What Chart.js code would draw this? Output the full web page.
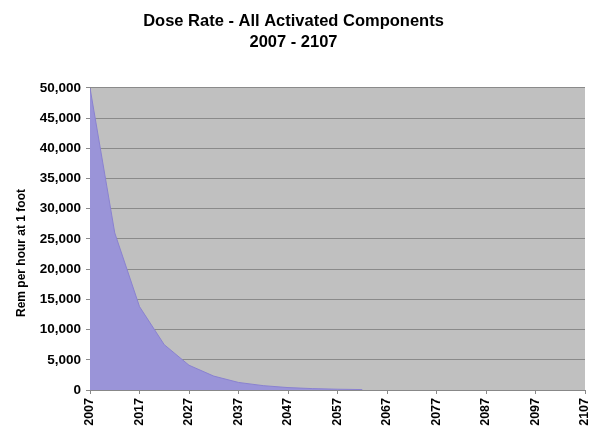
<!DOCTYPE html>
<html>
<head>
<meta charset="utf-8">
<script src="https://cdn.jsdelivr.net/npm/chart.js@4/dist/chart.umd.min.js"></script>
<style>
  html, body { margin: 0; padding: 0; background: #fff; }
  #wrap { width: 604px; height: 430px; position: relative; }
</style>
</head>
<body>
<div id="wrap"><canvas id="c"></canvas></div>
<script>
// Dose rate (rem per hour at 1 foot), sampled every five years
const years = [2007, 2012, 2017, 2022, 2027, 2032, 2037, 2042, 2047, 2052, 2057, 2062];
const doseRate = [50000, 26000, 13800, 7500, 4100, 2300, 1250, 720, 400, 230, 130, 70];
const yearTicks = [2007, 2017, 2027, 2037, 2047, 2057, 2067, 2077, 2087, 2097, 2107];
const titleLines = ['Dose Rate - All Activated Components', '2007 - 2107'];
const yAxisTitle = 'Rem per hour at 1 foot';

const FONT = "'Liberation Sans', Arial, sans-serif";

// Grey plot-area background
const plotBackground = {
  id: 'plotBackground',
  beforeDraw(chart) {
    const { ctx, chartArea: a } = chart;
    ctx.save();
    ctx.fillStyle = '#c0c0c0';
    ctx.fillRect(a.left, a.top, a.right - a.left, a.bottom - a.top);
    ctx.restore();
  }
};

// Rotated y-axis caption
const yCaption = {
  id: 'yCaption',
  afterDraw(chart) {
    const { ctx } = chart;
    ctx.save();
    ctx.translate(22, 253);
    ctx.rotate(-Math.PI / 2);
    ctx.font = 'bold 12px ' + FONT;
    ctx.fillStyle = '#000';
    ctx.textAlign = 'center';
    ctx.textBaseline = 'middle';
    ctx.fillText(yAxisTitle, 0, 0);
    ctx.restore();
  }
};

new Chart(document.getElementById('c'), {
  type: 'line',
  data: {
    datasets: [{
      data: years.map((y, i) => ({ x: y, y: doseRate[i] })),
      fill: 'origin',
      backgroundColor: '#9a94d8',
      borderColor: '#8a82d0',
      borderWidth: 1,
      pointRadius: 0,
      tension: 0
    }]
  },
  options: {
    responsive: true,
    maintainAspectRatio: false,
    animation: false,
    layout: { padding: { left: 0, right: 17, top: 0, bottom: 0 } },
    plugins: {
      legend: { display: false },
      tooltip: { enabled: false },
      title: {
        display: true,
        text: titleLines,
        color: '#000',
        font: { family: FONT, size: 16.5, weight: 'bold', lineHeight: 1.33 },
        padding: { top: 10, bottom: 34 }
      }
    },
    scales: {
      x: {
        type: 'linear',
        min: 2007,
        max: 2107,
        afterBuildTicks(scale) {
          scale.ticks = yearTicks.map(v => ({ value: v }));
        },
        afterFit(scale) { scale.height = 40; },
        grid: { drawOnChartArea: false, drawTicks: true, tickLength: 4, color: '#888' },
        border: { display: true, color: '#888', width: 1 },
        ticks: {
          minRotation: 90,
          maxRotation: 90,
          autoSkip: false,
          padding: 4,
          color: '#000',
          font: { family: FONT, size: 12.5, weight: 'bold' },
          callback: v => String(v)
        }
      },
      y: {
        min: 0,
        max: 50000,
        afterFit(scale) { scale.width = 90; },
        grid: { color: '#8a8a8a', lineWidth: 1, drawTicks: true, tickLength: 4 },
        border: { display: true, color: '#888' },
        ticks: {
          stepSize: 5000,
          padding: 5,
          color: '#000',
          font: { family: FONT, size: 13.5, weight: 'bold' },
          callback: v => v.toLocaleString('en-US')
        }
      }
    }
  },
  plugins: [plotBackground, yCaption]
});
</script>
</body>
</html>
